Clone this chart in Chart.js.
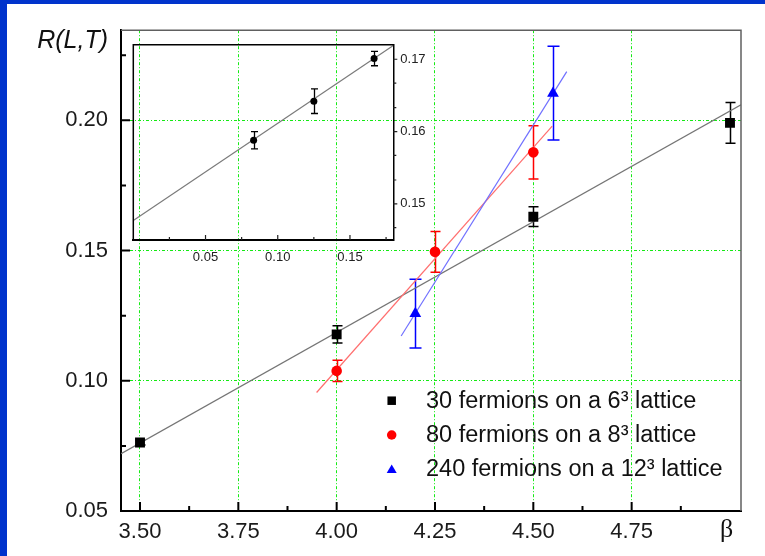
<!DOCTYPE html>
<html><head><meta charset="utf-8">
<script src="https://cdn.jsdelivr.net/npm/chart.js@4.4.1/dist/chart.umd.min.js"></script>
<style>
html,body{margin:0;padding:0;background:#0033cc;width:765px;height:556px;overflow:hidden}
#wrap{position:absolute;left:7px;top:4px;width:758px;height:552px;background:#fff}
#main{position:absolute;left:0;top:0}
#inset{position:absolute;left:121px;top:26px}
</style></head><body>
<div id="wrap"><canvas id="main" width="758" height="552"></canvas><canvas id="inset" width="305" height="240"></canvas></div>
<script>
// ---------------- data ----------------
const beta30 = [3.50, 4.00, 4.50, 5.00];
const r30 = [0.0763, 0.1178, 0.1630, 0.1990];
const err30 = [0.0010, 0.0033, 0.0038, 0.0078];
const beta80 = [4.00, 4.25, 4.50];
const r80 = [0.1038, 0.1495, 0.1877];
const err80 = [0.0041, 0.0078, 0.0102];
const beta240 = [4.20, 4.55];
const r240 = [0.1258, 0.2104];
const err240 = [0.0132, 0.0180];
const fit30Beta = [3.452, 5.028];
const fit30R = [0.0720, 0.2060];
const fit80Beta = [3.949, 4.548];
const fit80R = [0.0955, 0.1978];
const fit240Beta = [4.164, 4.585];
const fit240R = [0.1172, 0.2187];
const seriesLabels = ['30 fermions on a 6³ lattice', '80 fermions on a 8³ lattice', '240 fermions on a 12³ lattice'];
const xTicks = [3.50, 3.75, 4.00, 4.25, 4.50, 4.75];
const xTickLabels = ['3.50', '3.75', '4.00', '4.25', '4.50', '4.75'];
const xMinorTicks = [3.625, 3.875, 4.125, 4.375, 4.625, 4.875];
const yTicks = [0.05, 0.10, 0.15, 0.20];
const yTickLabels = ['0.05', '0.10', '0.15', '0.20'];
const yMinorTicks = [0.075, 0.125, 0.175, 0.225];
// inset
const insetInvL = [0.0833, 0.1250, 0.1667];
const insetR = [0.1588, 0.1642, 0.1701];
const insetErr = [0.0012, 0.0017, 0.0010];
const insetFitX = [0.000, 0.180];
const insetFitR = [0.1477, 0.1719];
const insetXTicks = [0.05, 0.10, 0.15];
const insetXTickLabels = ['0.05', '0.10', '0.15'];
const insetXMinor = [0.025, 0.075, 0.125, 0.175];
const insetYTicks = [0.15, 0.16, 0.17];
const insetYTickLabels = ['0.15', '0.16', '0.17'];
const insetYMinor = [0.1467, 0.1533, 0.1567, 0.1633, 0.1667];

// ---------------- helpers ----------------
const SANS = "'Liberation Sans', Arial, sans-serif";
const GREEN = 'rgb(20,235,20)';
Chart.defaults.font.family = SANS;
const pts = (xs, ys) => xs.map((x, i) => ({x: x, y: ys[i]}));

function drawErrorBars(chart) {
  const ctx = chart.ctx, xs = chart.scales.x, ys = chart.scales.y;
  chart.data.datasets.forEach(ds => {
    if (!ds.errorBars) return;
    ctx.save();
    ctx.strokeStyle = ds.errColor; ctx.lineWidth = ds.errWidth;
    ds.data.forEach((p, i) => {
      const e = ds.errorBars[i];
      const px = Math.round(xs.getPixelForValue(p.x)) + 0.5;
      const t = ys.getPixelForValue(p.y + e), b = ys.getPixelForValue(p.y - e);
      const h = ds.capHalf;
      ctx.beginPath();
      ctx.moveTo(px, t); ctx.lineTo(px, b);
      ctx.moveTo(px - h, t); ctx.lineTo(px + h, t);
      ctx.moveTo(px - h, b); ctx.lineTo(px + h, b);
      ctx.stroke();
    });
    ctx.restore();
  });
}

function symbol(ctx, style, x, y, s, color) {
  ctx.fillStyle = color;
  ctx.beginPath();
  if (style === 'rect') ctx.rect(x - s / 2, y - s / 2, s, s);
  else if (style === 'circle') ctx.arc(x, y, s / 2, 0, Math.PI * 2);
  else { ctx.moveTo(x, y - s * 0.45); ctx.lineTo(x + s / 2, y + s * 0.4); ctx.lineTo(x - s / 2, y + s * 0.4); ctx.closePath(); }
  ctx.fill();
}

const mainDecor = {
  id: 'mainDecor',
  beforeDatasetsDraw(chart) { drawErrorBars(chart); },
  afterDraw(chart) {
    const ctx = chart.ctx, a = chart.chartArea, xs = chart.scales.x, ys = chart.scales.y;
    ctx.save();
    // top and right frame
    ctx.strokeStyle = '#606060'; ctx.lineWidth = 1.5;
    ctx.beginPath();
    ctx.moveTo(a.left, a.top); ctx.lineTo(a.right, a.top); ctx.lineTo(a.right, a.bottom);
    ctx.stroke();
    // inward ticks
    ctx.strokeStyle = '#000'; ctx.lineWidth = 2;
    ctx.beginPath();
    xTicks.forEach(v => { const p = xs.getPixelForValue(v); ctx.moveTo(p, a.bottom); ctx.lineTo(p, a.bottom - 9); });
    xMinorTicks.forEach(v => { const p = xs.getPixelForValue(v); ctx.moveTo(p, a.bottom); ctx.lineTo(p, a.bottom - 5); });
    yTicks.forEach(v => { const p = ys.getPixelForValue(v); ctx.moveTo(a.left, p); ctx.lineTo(a.left + 9, p); });
    yMinorTicks.forEach(v => { const p = ys.getPixelForValue(v); ctx.moveTo(a.left, p); ctx.lineTo(a.left + 5, p); });
    ctx.stroke();
    // axis titles
    ctx.fillStyle = '#111';
    ctx.font = "italic 25px " + SANS;
    ctx.textAlign = 'right'; ctx.textBaseline = 'middle';
    ctx.fillText('R(L,T)', 101, 37);
    ctx.font = "26px 'Liberation Serif', 'DejaVu Serif', serif";
    ctx.textAlign = 'center';
    ctx.fillText('β', 719.7, 526);
    // legend
    const styles = ['rect', 'circle', 'triangle'];
    const colors = ['#000', '#ff0000', '#0000ff'];
    const sizes = [8.5, 9.5, 10];
    const rows = [396.7, 431, 465];
    ctx.font = "23.5px " + SANS;
    ctx.textAlign = 'left'; ctx.textBaseline = 'middle';
    seriesLabels.forEach((t, i) => {
      symbol(ctx, styles[i], 384.7, rows[i], sizes[i], colors[i]);
      ctx.fillStyle = '#111';
      ctx.fillText(t, 419, rows[i] + 1);
    });
    ctx.restore();
  }
};

const fitLine = (xs, ys, color, order) => ({
  type: 'line', data: pts(xs, ys), borderColor: color, borderWidth: 1.2,
  pointRadius: 0, fill: false, tension: 0, order: order
});

new Chart(document.getElementById('main'), {
  type: 'scatter',
  data: {
    datasets: [
      fitLine(fit30Beta, fit30R, '#757575', 10),
      fitLine(fit80Beta, fit80R, '#ff6e6e', 9),
      fitLine(fit240Beta, fit240R, '#7070ff', 8),
      { label: seriesLabels[0], data: pts(beta30, r30), pointStyle: 'rect', pointRadius: 7, pointBorderWidth: 0,
        backgroundColor: '#000', borderColor: '#000', errorBars: err30, errColor: '#000', errWidth: 1.5, capHalf: 5, order: 1 },
      { label: seriesLabels[1], data: pts(beta80, r80), pointStyle: 'circle', pointRadius: 5.3, pointBorderWidth: 0,
        backgroundColor: '#ff0000', borderColor: '#ff0000', errorBars: err80, errColor: '#ff0000', errWidth: 1.5, capHalf: 5, order: 2 },
      { label: seriesLabels[2], data: pts(beta240, r240), pointStyle: 'triangle', pointRadius: 6.8, pointBorderWidth: 0,
        backgroundColor: '#0000ff', borderColor: '#0000ff', errorBars: err240, errColor: '#0000ff', errWidth: 1.5, capHalf: 6, order: 3 }
    ]
  },
  options: {
    responsive: false, animation: false, devicePixelRatio: 1,
    layout: { padding: { top: 23, right: 24, left: 0, bottom: 0 } },
    plugins: { legend: { display: false }, tooltip: { enabled: false } },
    scales: {
      x: {
        type: 'linear', min: 3.4517, max: 5.028,
        afterBuildTicks: s => { s.ticks = xTicks.map(v => ({ value: v })); },
        afterFit: s => { s.height = 45; },
        grid: { color: GREEN, lineWidth: 1, drawTicks: false },
        border: { display: true, color: '#000', width: 2, dash: [3, 2, 1, 2] },
        ticks: { padding: 8, color: '#1a1a1a', font: { size: 22 }, maxRotation: 0, autoSkip: false,
                 callback: (v, i) => xTickLabels[i] }
      },
      y: {
        type: 'linear', min: 0.05, max: 0.2346,
        afterBuildTicks: s => { s.ticks = yTicks.map(v => ({ value: v })); },
        afterFit: s => { s.width = 114; },
        grid: { color: GREEN, lineWidth: 1, drawTicks: false },
        border: { display: true, color: '#000', width: 2, dash: [3, 2, 1, 2] },
        ticks: { padding: 13, color: '#1a1a1a', font: { size: 22 }, autoSkip: false,
                 callback: (v, i) => yTickLabels[i] }
      }
    }
  },
  plugins: [mainDecor]
});

// ---------------- inset ----------------
const insetDecor = {
  id: 'insetDecor',
  beforeDatasetsDraw(chart) { drawErrorBars(chart); },
  afterDraw(chart) {
    const ctx = chart.ctx, a = chart.chartArea, xs = chart.scales.x, ys = chart.scales.y;
    ctx.save();
    ctx.strokeStyle = '#000'; ctx.lineWidth = 1.5;
    ctx.beginPath();
    ctx.moveTo(a.left, a.bottom); ctx.lineTo(a.left, a.top); ctx.lineTo(a.right, a.top);
    ctx.stroke();
    ctx.lineWidth = 1.2; ctx.strokeStyle = '#222';
    ctx.beginPath();
    insetXTicks.forEach(v => { const p = xs.getPixelForValue(v); ctx.moveTo(p, a.bottom); ctx.lineTo(p, a.bottom - 5); });
    insetXMinor.forEach(v => { const p = xs.getPixelForValue(v); ctx.moveTo(p, a.bottom); ctx.lineTo(p, a.bottom - 3); });
    insetYTicks.forEach(v => { const p = ys.getPixelForValue(v); ctx.moveTo(a.right, p); ctx.lineTo(a.right + 4, p); });
    insetYMinor.forEach(v => { const p = ys.getPixelForValue(v); ctx.moveTo(a.right, p); ctx.lineTo(a.right + 3, p); });
    ctx.stroke();
    ctx.restore();
  }
};

new Chart(document.getElementById('inset'), {
  type: 'scatter',
  data: {
    datasets: [
      { type: 'line', data: pts(insetFitX, insetFitR), borderColor: '#7a7a7a', borderWidth: 1.2, pointRadius: 0, tension: 0, order: 5 },
      { data: pts(insetInvL, insetR), pointStyle: 'circle', pointRadius: 3.5, pointBorderWidth: 0,
        backgroundColor: '#000', borderColor: '#000', errorBars: insetErr, errColor: '#000', errWidth: 1.3, capHalf: 3.5, order: 1 }
    ]
  },
  options: {
    responsive: false, animation: false, devicePixelRatio: 1,
    layout: { padding: { top: 5.7, left: 5.3, right: 0, bottom: 0 } },
    plugins: { legend: { display: false }, tooltip: { enabled: false } },
    scales: {
      x: {
        type: 'linear', min: 0, max: 0.18,
        afterBuildTicks: s => { s.ticks = insetXTicks.map(v => ({ value: v })); },
        afterFit: s => { s.height = 30; },
        grid: { display: false, drawTicks: false },
        border: { display: true, color: '#000', width: 2 },
        ticks: { padding: 10, color: '#222', font: { size: 13 }, maxRotation: 0, autoSkip: false,
                 callback: (v, i) => insetXTickLabels[i] }
      },
      y: {
        type: 'linear', position: 'right', min: 0.1450, max: 0.1720,
        afterBuildTicks: s => { s.ticks = insetYTicks.map(v => ({ value: v })); },
        afterFit: s => { s.width = 39.7; },
        grid: { display: false, drawTicks: false },
        border: { display: true, color: '#000', width: 1.5 },
        ticks: { padding: 7, color: '#222', font: { size: 13 }, autoSkip: false,
                 callback: (v, i) => insetYTickLabels[i] }
      }
    }
  },
  plugins: [insetDecor]
});
</script>
</body></html>
